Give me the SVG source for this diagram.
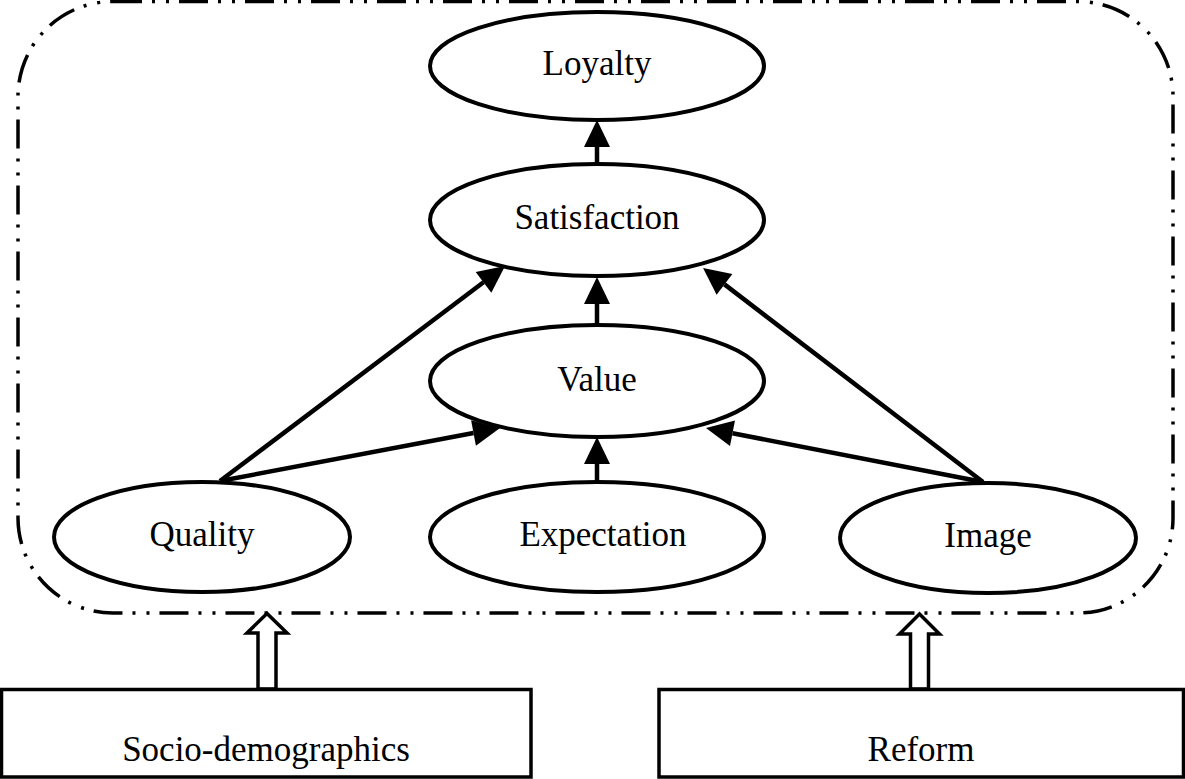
<svg xmlns="http://www.w3.org/2000/svg" width="1185" height="779" viewBox="0 0 1185 779">
<style>
  .bg{fill:#ffffff}
  .frame{fill:none;stroke:#000;stroke-width:3.5;stroke-dasharray:29 10 3 11 3 10}
  .node{fill:#fff;stroke:#000;stroke-width:4}
  .box{fill:#fff;stroke:#000;stroke-width:3.5}
  .lbl{font-family:"Liberation Serif","Times New Roman",serif;font-size:35px;fill:#000;text-anchor:middle}
  .edge{stroke:#000;stroke-width:4.5;fill:none}
  .hollow{fill:#fff;stroke:#000;stroke-width:3.5;stroke-linejoin:miter}
</style>
<defs>
  <marker id="ah" markerUnits="userSpaceOnUse" markerWidth="28" markerHeight="28" refX="0" refY="13" orient="auto" overflow="visible">
    <path d="M0,0 L27,13 L0,26 Z" fill="#000"/>
  </marker>
</defs>
<rect class="bg" x="0" y="0" width="1185" height="779"/>
<rect id="frame" class="frame" x="18" y="1.5" width="1155" height="611.5" rx="95" ry="95"/>

<g id="connectors">
  <line class="edge" x1="597" y1="164" x2="597" y2="147" marker-end="url(#ah)"/>
  <line class="edge" x1="597" y1="325" x2="597" y2="304" marker-end="url(#ah)"/>
  <line class="edge" x1="597" y1="483" x2="597" y2="464" marker-end="url(#ah)"/>
  <line class="edge" x1="220" y1="481" x2="483.5" y2="282.3" marker-end="url(#ah)"/>
  <line class="edge" x1="220" y1="481" x2="473.5" y2="433" marker-end="url(#ah)"/>
  <line class="edge" x1="983" y1="482" x2="724.5" y2="284.4" marker-end="url(#ah)"/>
  <line class="edge" x1="983" y1="482" x2="732.5" y2="433.2" marker-end="url(#ah)"/>
  <path class="hollow" d="M258,689 L258,633 L247,633 L267,613.5 L287,633 L276,633 L276,689 Z"/>
  <path class="hollow" d="M910.5,689 L910.5,634 L899.5,634 L919.5,614 L939.5,634 L928.5,634 L928.5,689 Z"/>
</g>

<g id="loyalty">
  <ellipse class="node" cx="597" cy="66" rx="167" ry="54"/>
  <text class="lbl" x="597" y="75">Loyalty</text>
</g>
<g id="satisfaction">
  <ellipse class="node" cx="597" cy="220" rx="167" ry="56"/>
  <text class="lbl" x="597" y="229">Satisfaction</text>
</g>
<g id="value">
  <ellipse class="node" cx="597" cy="381" rx="167" ry="56"/>
  <text class="lbl" x="597" y="391">Value</text>
</g>
<g id="quality">
  <ellipse class="node" cx="202" cy="537" rx="148" ry="55"/>
  <text class="lbl" x="202" y="546">Quality</text>
</g>
<g id="expectation">
  <ellipse class="node" cx="597" cy="537" rx="167" ry="55"/>
  <text class="lbl" x="603" y="546">Expectation</text>
</g>
<g id="image">
  <ellipse class="node" cx="988" cy="538" rx="148" ry="55"/>
  <text class="lbl" x="988" y="547">Image</text>
</g>
<g id="socio">
  <rect class="box" x="1.5" y="689.5" width="529.5" height="87.5"/>
  <text class="lbl" x="266" y="761">Socio-demographics</text>
</g>
<g id="reform">
  <rect class="box" x="659" y="689.5" width="524.5" height="87.5"/>
  <text class="lbl" x="921" y="761">Reform</text>
</g>
</svg>
